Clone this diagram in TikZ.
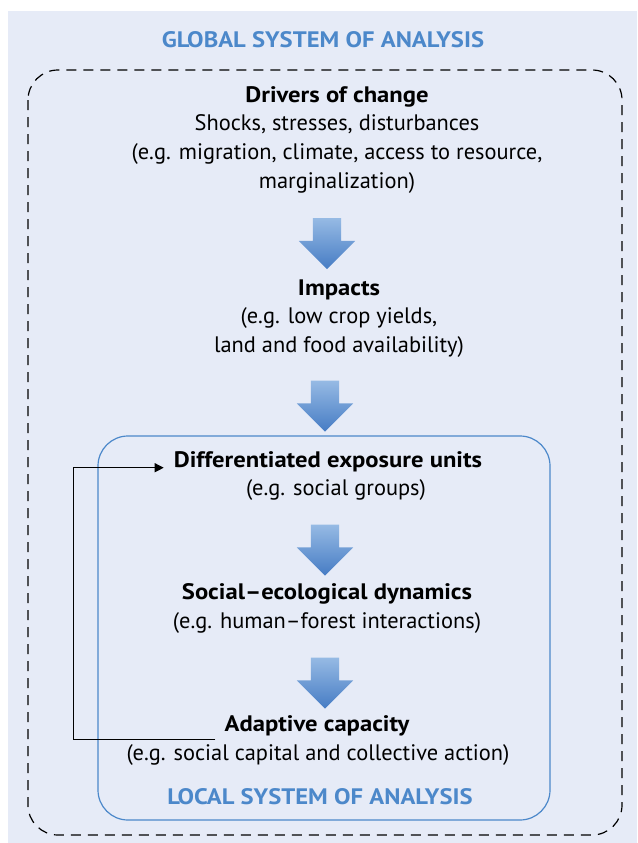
\documentclass[tikz,border=0pt]{standalone}
\usepackage{fontspec}
\setmainfont{PT Sans}[BoldFeatures={FakeStretch=1.1}]
\usetikzlibrary{shapes.arrows,arrows.meta}
\definecolor{panelbg}{RGB}{230,235,247}
\definecolor{sysblue}{RGB}{76,136,202}
\definecolor{arrowtop}{RGB}{150,186,228}
\definecolor{arrowbot}{RGB}{70,124,196}
\tikzset{
    heading/.style={font=\fontsize{22.4}{27}\selectfont\bfseries, text=sysblue},
    boxtitle/.style={font=\fontsize{22.4}{27}\selectfont\bfseries, inner sep=3pt},
    boxtext/.style={font=\fontsize{22.4}{29}\selectfont, align=center, inner sep=3pt},
    bigarrow/.style={single arrow, shape border rotate=270, minimum height=51pt,
        minimum width=56pt, inner sep=14pt, single arrow head extend=14pt,
        top color=arrowtop, bottom color=arrowbot, draw=none},
    feedback/.style={line width=1.2pt, -{Triangle[length=9pt,width=9pt]}}
}
\begin{document}
\begin{tikzpicture}[x=1pt,y=-1pt]
                    \useasboundingbox (0,0) rectangle (637,843);
                    \fill[panelbg] (8,11) rectangle (637,843);
                    \draw[dash pattern=on 10pt off 7pt, line width=1.2pt, rounded corners=30pt] (28,70) rectangle (622,835);
                    \draw[sysblue, line width=1.2pt, rounded corners=30pt] (98,436) rectangle (550,820);

                    \node[heading] (global) at (323,40) {GLOBAL SYSTEM OF ANALYSIS};
                    \node[boxtitle] (drivers) at (337,97) {Drivers of change};
                    \node[boxtext] (drivtext) at (337,154) {Shocks, stresses, disturbances\\(e.g. migration, climate, access to resource,\\marginalization)};
                    \node[bigarrow] (arr1) at (327,236.5) {};
                    \node[boxtitle] (impacts) at (339,290) {Impacts};
                    \node[boxtext] (imptext) at (339,332) {(e.g. low crop yields,\\land and food availability)};
                    \node[bigarrow] (arr2) at (325,399) {};
                    \node[boxtitle] (units) at (328,462) {Differentiated exposure units};
                    \node[boxtext] (unittext) at (336,490) {(e.g. social groups)};
                    \node[bigarrow] (arr3) at (325,543) {};
                    \node[boxtitle] (dynamics) at (327,594) {Social–ecological dynamics};
                    \node[boxtext] (dyntext) at (327,623) {(e.g. human–forest interactions)};
                    \node[bigarrow] (arr4) at (325,676) {};
                    \node[boxtitle] (adaptive) at (317,726) {Adaptive capacity};
                    \node[boxtext] (adapttext) at (318,755) {(e.g. social capital and collective action)};
                    \node[heading] (local) at (320,797) {LOCAL SYSTEM OF ANALYSIS};

                    \draw[feedback, shorten <=6pt, shorten >=7pt] (adaptive.south west) -- ++(-148,0) |- (units.base west);
                \end{tikzpicture}
\end{document}
